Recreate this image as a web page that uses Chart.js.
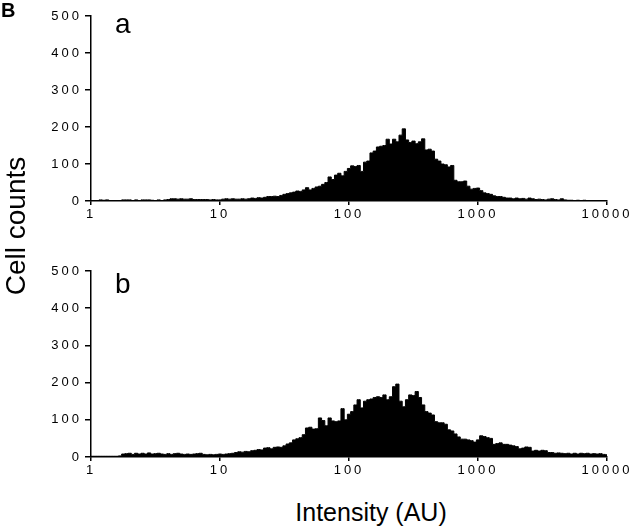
<!DOCTYPE html>
<html>
<head>
<meta charset="utf-8">
<script src="https://cdn.jsdelivr.net/npm/chart.js@4"></script>
<style>
  html, body { margin: 0; padding: 0; background: #fff; }
  #wrap { position: relative; width: 640px; height: 532px; overflow: hidden; font-family: "Liberation Sans", Arial, sans-serif; color: #000; }
  canvas { position: absolute; left: 0; }
  #chartA { top: 0; }
  #chartB { top: 255px; }
  .txt { position: absolute; white-space: nowrap; line-height: 1; }
  #panelTag { left: 1px; top: 0px; font-size: 20px; font-weight: bold; }
  #yTitle { left: 16px; top: 226px; font-size: 28px; transform: translate(-50%, -50%) rotate(-90deg); }
  #xTitle { left: 371px; top: 500px; font-size: 25px; transform: translateX(-50%); }
</style>
</head>
<body>
<div id="wrap">
  <canvas id="chartA" width="640" height="240"></canvas>
  <canvas id="chartB" width="640" height="240"></canvas>
  <div class="txt" id="panelTag">B</div>
  <div class="txt" id="yTitle">Cell counts</div>
  <div class="txt" id="xTitle">Intensity (AU)</div>
</div>
<script>
// Tick labels
const xTicks = [1, 10, 100, 1000, 10000];
const yTicks = [0, 100, 200, 300, 400, 500];
const panelLabels = ["a", "b"];

// Histogram channels: 40 bins per decade, from 1 to 10000 (161 channels)
const binsPerDecade = 40;

// Panel a cell counts per channel
const countsA = [
  0, 0, 0, 3, 2, 3, 0, 0, 0, 0,
  3, 3, 3, 0, 3, 0, 3, 3, 3, 2,
  0, 3, 0, 3, 4, 6, 6, 5, 6, 5,
  5, 6, 4, 4, 4, 4, 4, 3, 4, 3,
  3, 5, 6, 5, 6, 5, 5, 6, 5, 6,
  8, 7, 9, 8, 10, 12, 12, 13, 12, 15,
  18, 20, 22, 24, 27, 26, 30, 36, 30, 34,
  38, 40, 45, 50, 65, 58, 70, 75, 68, 80,
  88, 95, 93, 96, 80, 105, 108, 130, 135, 146,
  148, 150, 167, 154, 167, 160, 178, 195, 165, 158,
  162, 155, 160, 168, 138, 140, 135, 113, 108, 100,
  98, 92, 96, 56, 52, 52, 54, 40, 32, 34,
  35, 28, 22, 20, 18, 14, 12, 12, 10, 8,
  8, 6, 8, 6, 7, 5, 8, 6, 4, 5,
  4, 3, 5, 6, 4, 3, 6, 3, 2, 2,
  1, 2, 1, 2, 0, 1, 1, 0, 1, 0,
  0
];

// Panel b cell counts per channel
const countsB = [
  2, 2, 2, 2, 2, 2, 2, 2, 2, 3,
  8, 9, 10, 7, 10, 8, 10, 8, 11, 8,
  9, 10, 8, 7, 9, 7, 9, 10, 8, 7,
  8, 7, 8, 9, 10, 7, 6, 7, 6, 7,
  8, 7, 8, 9, 10, 12, 14, 13, 15, 14,
  17, 18, 20, 19, 24, 25, 22, 26, 27, 26,
  30, 35, 38, 46, 49, 52, 60, 78, 80, 75,
  76, 105, 98, 84, 105, 97, 95, 97, 130, 100,
  115, 122, 140, 154, 132, 150, 154, 156, 160, 162,
  160, 167, 154, 162, 189, 196, 150, 135, 154, 167,
  165, 176, 160, 140, 122, 118, 113, 95, 92, 92,
  88, 73, 70, 62, 54, 48, 48, 46, 44, 40,
  46, 57, 55, 52, 50, 34, 36, 38, 34, 34,
  32, 30, 28, 22, 24, 27, 26, 16, 18, 16,
  18, 17, 12, 12, 10, 11, 10, 9, 10, 8,
  10, 8, 10, 9, 10, 8, 9, 8, 9, 7,
  6
];

const FONT = '"Liberation Sans", Arial, Helvetica, sans-serif';

// Spaced-out tick digits like the original figure
const spacedTicks = {
  id: "spacedTicks",
  beforeLayout(chart) { chart.ctx.letterSpacing = "3px"; },
  beforeDraw(chart) { chart.ctx.letterSpacing = "3px"; }
};

// Panel letter in the upper-left of the plot area
const panelLabel = {
  id: "panelLabel",
  afterDraw(chart, args, opts) {
    const { ctx, chartArea } = chart;
    ctx.save();
    ctx.letterSpacing = "0px";
    ctx.font = "28px " + FONT;
    ctx.fillStyle = "#000";
    ctx.textAlign = "left";
    ctx.textBaseline = "alphabetic";
    ctx.fillText(opts.text, chartArea.left + opts.dx, chartArea.top + opts.dy);
    ctx.restore();
  }
};

const makeChart = (id, counts, label, labelDy, padBottom) => {
  const points = counts.map((c, i) => ({ x: Math.pow(10, i / binsPerDecade), y: c }));
  return new Chart(document.getElementById(id).getContext("2d"), {
    type: "line",
    data: {
      datasets: [{
        data: points,
        fill: "origin",
        backgroundColor: "#000",
        borderColor: "#000",
        borderWidth: 1,
        pointRadius: 0,
        stepped: "middle"
      }]
    },
    options: {
      responsive: false,
      animation: false,
      devicePixelRatio: 1,
      layout: { padding: { top: 16, left: 40, right: 33, bottom: padBottom } },
      plugins: {
        legend: { display: false },
        tooltip: { enabled: false },
        panelLabel: { text: label, dx: 24, dy: labelDy }
      },
      scales: {
        x: {
          type: "logarithmic",
          min: xTicks[0],
          max: xTicks[xTicks.length - 1],
          afterBuildTicks: scale => { scale.ticks = xTicks.map(v => ({ value: v })); },
          afterFit: scale => { scale.height = 24; },
          border: { display: true, color: "#000", width: 1.5 },
          grid: { display: true, drawOnChartArea: false, drawTicks: true, tickLength: 4, color: "#000", lineWidth: 1.5 },
          ticks: {
            autoSkip: false,
            maxRotation: 0,
            padding: 2,
            color: "#000",
            font: { family: FONT, size: 13 },
            callback: v => String(v)
          }
        },
        y: {
          min: yTicks[0],
          max: yTicks[yTicks.length - 1],
          afterBuildTicks: scale => { scale.ticks = yTicks.map(v => ({ value: v })); },
          afterFit: scale => { scale.width = 51; },
          border: { display: true, color: "#000", width: 1.5 },
          grid: { display: true, drawOnChartArea: false, drawTicks: true, tickLength: 6, color: "#000", lineWidth: 1.5 },
          ticks: {
            padding: 3,
            color: "#000",
            font: { family: FONT, size: 13 },
            callback: v => String(v)
          }
        }
      }
    },
    plugins: [spacedTicks, panelLabel]
  });
};

const chartA = makeChart("chartA", countsA, panelLabels[0], 17, 15);
const chartB = makeChart("chartB", countsB, panelLabels[1], 22, 14);
</script>
</body>
</html>
